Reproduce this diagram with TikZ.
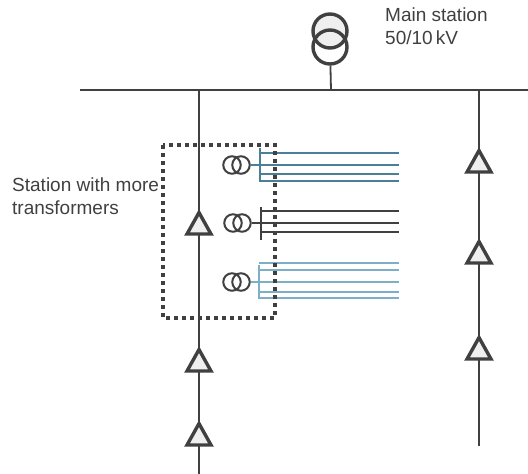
\documentclass[tikz,border=0pt]{standalone}
\usepackage{fontspec}
\setmainfont{Liberation Sans}
\usepackage{xcolor}
\usetikzlibrary{
  calc,
  positioning,
  shapes.geometric
}
\definecolor{linegray}{HTML}{404040}
\definecolor{fillgray}{HTML}{EFEFEF}
\definecolor{darkteal}{HTML}{4A7F96}
\definecolor{lightteal}{HTML}{7DB0C6}
\tikzset{
  line join=miter,
  busline/.style={draw=linegray, line width=1.8pt},
  tapline/.style={line width=1.6pt},
  regulator/.style={draw=linegray, fill=fillgray, line width=3.4pt, isosceles triangle,
    isosceles triangle stretches, shape border rotate=90, inner sep=0pt, outer sep=0pt,
    minimum height=21.5pt, minimum width=24pt},
  bigcoil/.style={draw=linegray, circle, line width=3.4pt, inner sep=0pt, minimum size=34pt},
  smallcoil/.style={draw=linegray, circle, line width=2pt, inner sep=0pt, minimum size=17.5pt},
  stationbox/.style={draw=linegray, line width=3.4pt, dash pattern=on 4pt off 4pt},
  textlabel/.style={text=linegray, font=\fontsize{19}{23}\selectfont, align=left, anchor=north west, inner sep=0pt}
}
\begin{document}
\begin{tikzpicture}[x=1pt,y=-1pt]
  \useasboundingbox (0,0) rectangle (528,474);

  % bus bar and feeders
  \coordinate (busl) at (80,90);
  \coordinate (busr) at (528,90);
  \coordinate (feedla) at (199,90);
  \coordinate (feedlb) at (199,474);
  \coordinate (feedra) at (479,90);
  \coordinate (feedrb) at (479,446);
  \coordinate (mainbus) at (331,90);
  \draw[busline] (busl)--(busr);
  \draw[busline] (feedla)--(feedlb);
  \draw[busline] (feedra)--(feedrb);

  % main transformer
  \node[bigcoil,fill=fillgray] (mainup) at (330,31) {};
  \node[bigcoil] (maindown) at (330,47) {};
  \draw[busline] (maindown)--(mainbus);

  % regulators
  \node[regulator] (regla) at (199,227) {};
  \node[regulator] (reglb) at (199,364) {};
  \node[regulator] (reglc) at (199,438) {};
  \node[regulator] (regra) at (479,165) {};
  \node[regulator] (regrb) at (479,256) {};
  \node[regulator] (regrc) at (479,352) {};

  % first transformer with its lines
  \node[smallcoil] (tealleft) at (232,165) {};
  \node[smallcoil] (tealright) at (241,165) {};
  \coordinate (tealtop) at (260,148);
  \coordinate (tealbot) at (260,182);
  \draw[tapline,darkteal] (tealtop)--(tealbot);
  \foreach \y in {153,165,174,181}{
    \coordinate (teals\y) at (260,\y);
    \coordinate (teale\y) at (399,\y);
    \draw[tapline,darkteal] (teals\y)--(teale\y);
  }
  \draw[tapline,darkteal] (tealright)--(teals165);

  % second transformer
  \node[smallcoil] (blackleft) at (233,223) {};
  \node[smallcoil] (blackright) at (242,223) {};
  \coordinate (blacktop) at (261,207);
  \coordinate (blackbot) at (261,240);
  \draw[tapline,linegray] (blacktop)--(blackbot);
  \foreach \y in {211,223,232}{
    \coordinate (blacks\y) at (260,\y);
    \coordinate (blacke\y) at (399,\y);
    \draw[tapline,linegray] (blacks\y)--(blacke\y);
  }
  \draw[tapline,linegray] (blackright)--(blacks223);

  % third transformer
  \node[smallcoil] (lightleft) at (232,282) {};
  \node[smallcoil] (lightright) at (241,282) {};
  \coordinate (lighttop) at (259,265);
  \coordinate (lightbot) at (259,299);
  \draw[tapline,lightteal] (lighttop)--(lightbot);
  \foreach \y in {263,270,282,292,298}{
    \coordinate (lights\y) at (259,\y);
    \coordinate (lighte\y) at (399,\y);
    \draw[tapline,lightteal] (lights\y)--(lighte\y);
  }
  \draw[tapline,lightteal] (lightright)--(lights282);

  % dotted station box
  \draw[stationbox] (163,145) rectangle (275,318);

  % labels
  \node[textlabel] (mainlabel) at (385,8) {Main station\\50/10\,kV};
  \node[textlabel] (stationlabel) at (12,178) {Station with more\\transformers};
\end{tikzpicture}
\end{document}
